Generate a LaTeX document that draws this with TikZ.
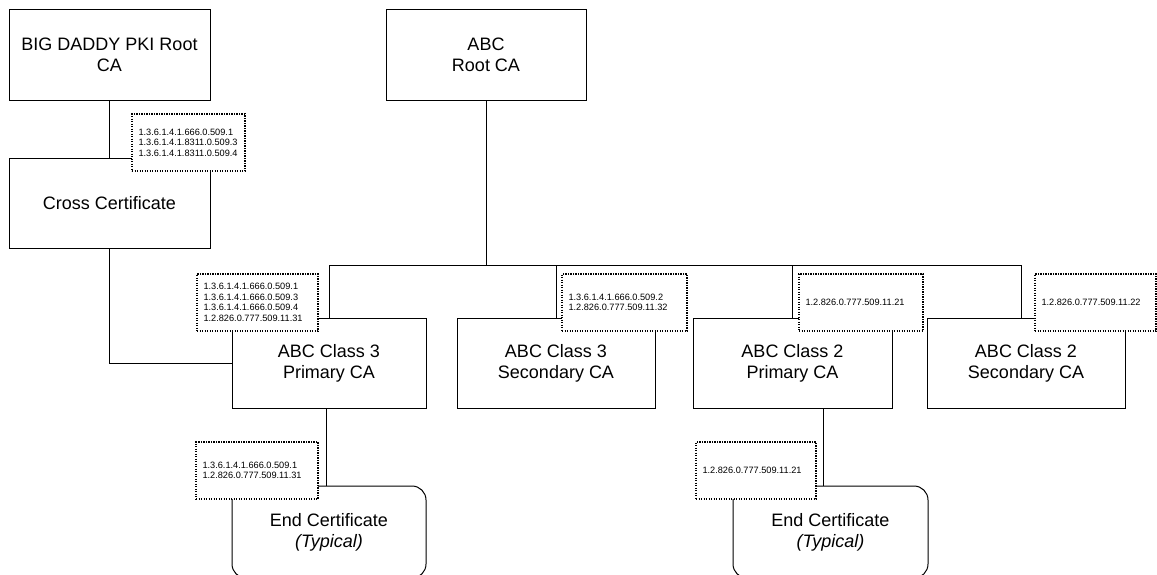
\documentclass[tikz,border=0pt]{standalone}
\usepackage{fontspec}
\setmainfont{Liberation Sans}
\begin{document}
\begin{tikzpicture}[x=1pt,y=-1pt,line width=1pt,
  box/.style={draw,fill=white,rectangle,inner sep=0pt,align=center,
    font=\fontsize{18}{21}\selectfont,minimum height=90pt},
  endbox/.style={box,rounded corners=14pt,minimum height=92pt},
  oid/.style={draw,fill=white,rectangle,inner xsep=6.5pt,inner ysep=0pt,align=left,
    line width=1.3pt,dash pattern=on 1.3pt off 1.2pt,
    font=\fontsize{9.2}{10.5}\selectfont,minimum height=57pt,text width=#1},
  oid/.default=100pt
]
\useasboundingbox (0,0) rectangle (1157,574);
\clip (0,0) rectangle (1157,574);
% main boxes
\node[box,minimum width=201pt,minimum height=91pt] (big) at (109.5,54.5) {BIG DADDY PKI Root\\CA};
\node[box,minimum width=201pt] (cross) at (109.5,203) {Cross Certificate};
\node[box,minimum width=200pt,minimum height=91pt] (root) at (486,54.5) {ABC\\Root CA};
\node[box,minimum width=194pt] (c3p) at (329,363) {ABC Class 3\\Primary CA};
\node[box,minimum width=198pt] (c3s) at (556,363) {ABC Class 3\\Secondary CA};
\node[box,minimum width=199pt] (c2p) at (792.5,363) {ABC Class 2\\Primary CA};
\node[box,minimum width=198pt] (c2s) at (1026,363) {ABC Class 2\\Secondary CA};
\node[endbox,minimum width=194pt] (endl) at (329,532) {End Certificate\\\textit{(Typical)}};
\node[endbox,minimum width=195pt] (endr) at (830.5,532) {End Certificate\\\textit{(Typical)}};
% connectors
\draw (big.south) -- (cross.north);
\draw (cross.south) |- (c3p.west);
\coordinate (busl) at (329,265);
\coordinate (busr) at (1021,265);
\draw (c3p.north) |- (busr) -- (busr |- c2s.north);
\draw (root.south) -- (root.south |- busl);
\draw (c3s.north) -- (c3s.north |- busl);
\draw (c2p.north) -- (c2p.north |- busl);
\draw ([xshift=-3pt]c3p.south) -- ([xshift=-3pt]endl.north);
\draw ([xshift=30.5pt]c2p.south) -- ([xshift=-7.5pt]endr.north);
% OID boxes (text width = box width - 13pt)
\node[oid=100pt] (o1) at (188.5,142.5) {1.3.6.1.4.1.666.0.509.1\\1.3.6.1.4.1.8311.0.509.3\\1.3.6.1.4.1.8311.0.509.4};
\node[oid=108pt] (o2) at (257.5,302.5) {1.3.6.1.4.1.666.0.509.1\\1.3.6.1.4.1.666.0.509.3\\1.3.6.1.4.1.666.0.509.4\\1.2.826.0.777.509.11.31};
\node[oid=112pt] (o3) at (624.5,302.5) {1.3.6.1.4.1.666.0.509.2\\1.2.826.0.777.509.11.32};
\node[oid=111pt] (o4) at (861,302.5) {1.2.826.0.777.509.11.21};
\node[oid=108pt] (o5) at (1095.5,302.5) {1.2.826.0.777.509.11.22};
\node[oid=109pt] (o6) at (257,470.5) {1.3.6.1.4.1.666.0.509.1\\1.2.826.0.777.509.11.31};
\node[oid=107pt] (o7) at (756,470.5) {1.2.826.0.777.509.11.21};
\end{tikzpicture}
\end{document}
